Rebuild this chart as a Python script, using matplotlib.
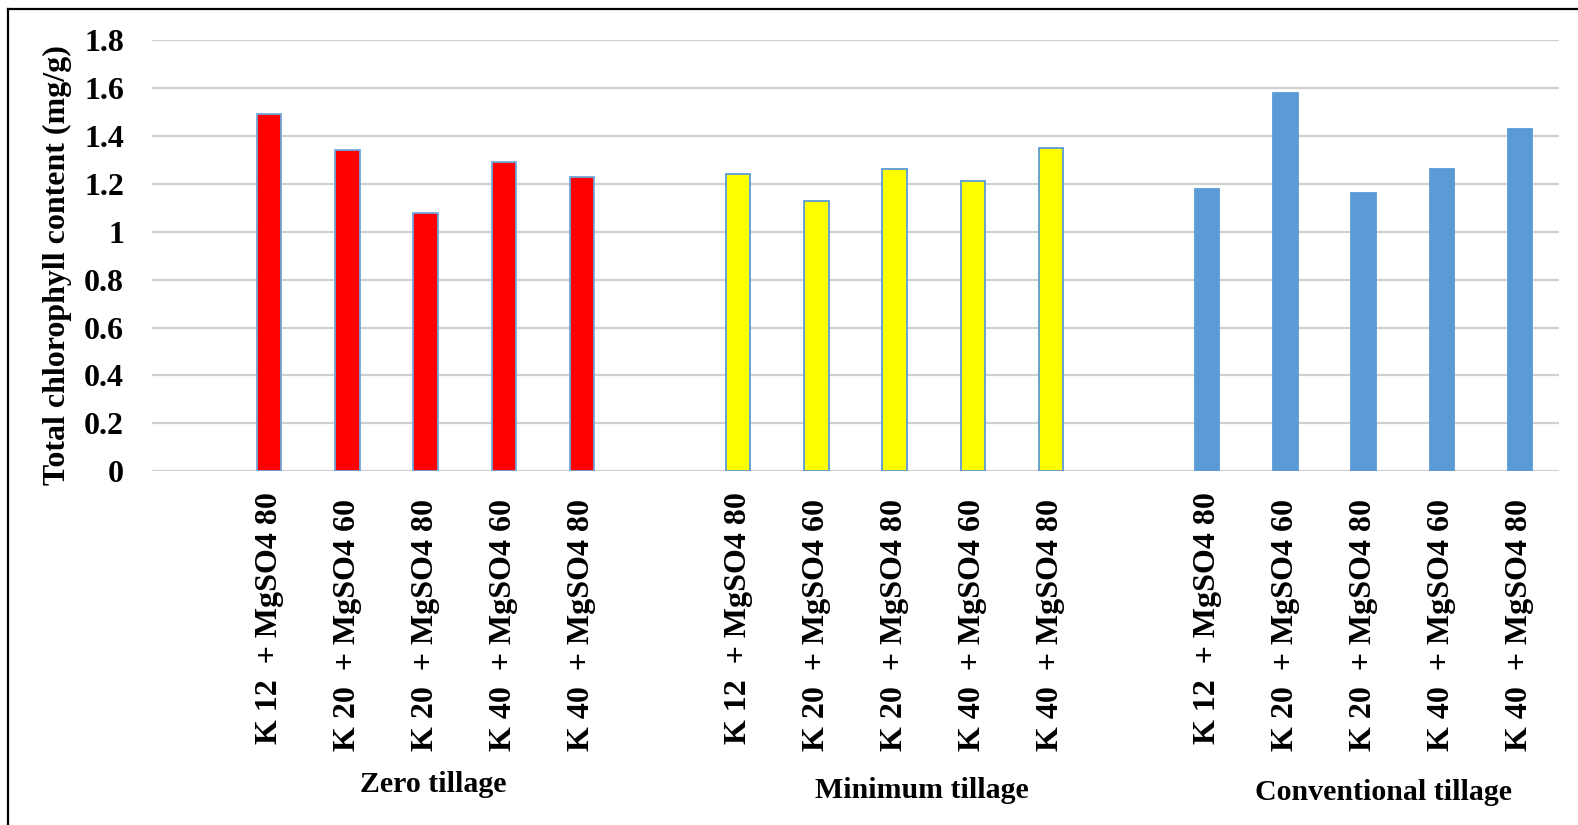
import matplotlib
matplotlib.use("Agg")
import matplotlib.pyplot as plt
from matplotlib.lines import Line2D
from matplotlib.transforms import ScaledTranslation
import numpy as np

plt.rcParams['font.family'] = ['Liberation Serif', 'DejaVu Serif']
plt.rcParams['font.weight'] = 'bold'

treatments = ["K 12  + MgSO4 80", "K 20  + MgSO4 60", "K 20  + MgSO4 80",
              "K 40  + MgSO4 60", "K 40  + MgSO4 80"]
groups = ["Zero tillage", "Minimum tillage", "Conventional tillage"]
zero_vals = [1.49, 1.34, 1.08, 1.29, 1.23]
minimum_vals = [1.24, 1.13, 1.26, 1.21, 1.35]
conventional_vals = [1.18, 1.58, 1.16, 1.26, 1.43]
yticks = [0, 0.2, 0.4, 0.6, 0.8, 1, 1.2, 1.4, 1.6, 1.8]
ytick_labels = ["0", "0.2", "0.4", "0.6", "0.8", "1", "1.2", "1.4", "1.6", "1.8"]

series = [zero_vals, minimum_vals, conventional_vals]
faces = ["#FF0000", "#FFFF00", "#5B9BD5"]
edges = ["#6FA8DC", "#5B9BD5", "#5B9BD5"]

W, H = 1578, 825
fig = plt.figure(figsize=(W / 100, H / 100), dpi=100)
ax = fig.add_axes([152 / W, 1 - 471.3 / H, (1559 - 152) / W, (471.3 - 40) / H])

n = len(treatments)
positions = []
labels = []
for g, vals in enumerate(series):
    xs = np.arange(n) + 1 + g * (n + 1)
    ax.bar(xs, vals, width=0.31, color=faces[g], edgecolor=edges[g],
           linewidth=1.3, zorder=3)
    positions.extend(xs)
    labels.extend(treatments)

ax.set_xlim(-0.5, 3 * (n + 1) - 0.5)
ax.set_ylim(0, 1.8)
ax.set_yticks(yticks)
ax.set_yticklabels(ytick_labels, fontsize=23, fontweight='bold')
ax.set_xticks(positions)
ax.set_xticklabels(labels, rotation=90, fontsize=23, fontweight='bold',
                   va='top', ha='center')
ax.tick_params(axis='both', length=0)
ax.tick_params(axis='x', pad=20)
ax.tick_params(axis='y', pad=20)
for s in ax.spines.values():
    s.set_visible(False)
ax.grid(axis='y', color='#D0D0D0', linewidth=1.6, zorder=0)
ax.set_axisbelow(True)

ax.set_ylabel("Total chlorophyll content (mg/g)", fontsize=23, fontweight='bold')
ax.yaxis.set_label_coords(-0.0569, 0.478)

# shift labels of the first slot in each group slightly upward
for i, lab in enumerate(ax.get_xticklabels()):
    if i % n == 0:
        lab.set_transform(lab.get_transform() + ScaledTranslation(0, 7 / 100, fig.dpi_scale_trans))

# group labels
group_centers = [(n + 1) * g + (n + 1) / 2 for g in range(3)]
group_offsets = [0.1, 0.35, 0.25]
group_ys = [785, 790, 792]
for g, name in enumerate(groups):
    xdata = group_centers[g] + group_offsets[g]
    xfig = ax.transData.transform((xdata, 0))[0] / W
    fig.text(xfig, 1 - group_ys[g] / H, name, fontsize=21.5, fontweight='bold',
             ha='center', va='center')

# figure border (left and top only)
fig.add_artist(Line2D([7.5 / W, 7.5 / W], [0, 1 - 9 / H], color='black', linewidth=1.6,
                      transform=fig.transFigure))
fig.add_artist(Line2D([7.5 / W, 1], [1 - 9 / H, 1 - 9 / H], color='black', linewidth=1.6,
                      transform=fig.transFigure))

fig.savefig("out.png", dpi=100, facecolor='white')
